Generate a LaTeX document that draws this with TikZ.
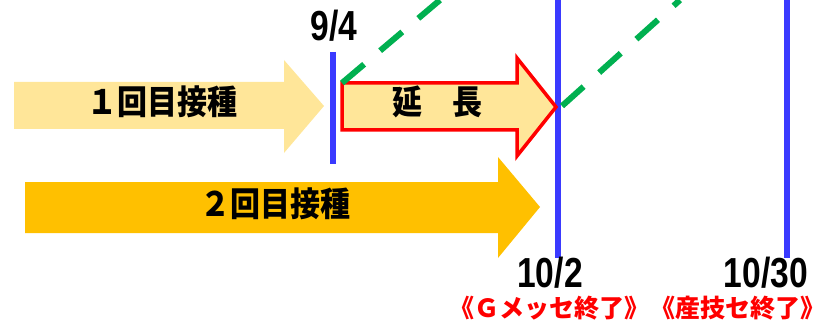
\documentclass[tikz,border=0pt]{standalone}
\usepackage{fontspec}
\setmainfont{Liberation Sans}
\newfontfamily\jp{Noto Sans CJK JP}
\definecolor{paleyellow}{HTML}{FFE699}
\definecolor{amber}{HTML}{FFC000}
\definecolor{lineblue}{HTML}{3A3AFF}
\definecolor{dashgreen}{HTML}{00B050}
\definecolor{labelred}{HTML}{FF0000}
\tikzset{
  dateline/.style={draw=lineblue, line width=6pt},
  greendash/.style={draw=dashgreen, line width=6pt, dash pattern=on 29pt off 21pt},
  jptext/.style={font=\jp\bfseries\fontsize{30}{32}\selectfont, inner sep=0pt, yscale=1.12},
  datetext/.style={font=\bfseries\fontsize{42}{43}\selectfont, inner sep=0pt, xscale=0.8},
  redlabel/.style={font=\jp\bfseries\fontsize{25}{26}\selectfont, text=labelred, inner sep=0pt},
}
\begin{document}
\begin{tikzpicture}[x=1pt,y=-1pt]
\useasboundingbox (0,0) rectangle (827,326);
% arrow 1 (first dose)
\fill[paleyellow] (14,82) -- (284,82) -- (284,60) -- (324,106) -- (284,153) -- (284,129) -- (14,129) -- cycle;
\node[jptext] (dose1) at (162,102) {１回目接種};
% arrow 2 (second dose)
\fill[amber] (25,182) -- (498,182) -- (498,157) -- (540,207) -- (498,258) -- (498,233) -- (25,233) -- cycle;
\node[jptext] (dose2) at (275,204) {２回目接種};
% blue date lines
\coordinate (l1top) at (333,52);
\coordinate (l1bot) at (333,164);
\coordinate (l2top) at (557.5,0);
\coordinate (l2bot) at (557.5,258);
\coordinate (l3top) at (787,0);
\coordinate (l3bot) at (787,258);
\draw[dateline] (l1top) -- (l1bot);
\draw[dateline] (l2top) -- (l2bot);
\draw[dateline] (l3top) -- (l3bot);
% extension arrow
\coordinate (extstart) at (342,83);
\coordinate (exttip) at (556,107);
\filldraw[fill=paleyellow, draw=labelred, line width=3.5pt, line join=miter]
  (extstart) -- (517,83) -- (517,58) -- (exttip) -- (517,156) -- (517,130) -- (342,130) -- cycle;
\node[jptext] (ext) at (437,102) {延　長};
% green dashed lines
\coordinate (g1end) at (440,0);
\coordinate (g2start) at (562,106);
\coordinate (g2end) at (680,0);
\draw[greendash] (extstart) -- (g1end);
\draw[greendash] (g2start) -- (g2end);
% dates
\node[datetext] (d1) at (334,26) {9/4};
\node[datetext] (d2) at (550,273) {10/2};
\node[datetext] (d3) at (766,273) {10/30};
% red labels
\node[redlabel] (gm) at (549,308) {《Ｇメッセ終了》};
\node[redlabel] (sg) at (738,308) {《産技セ終了》};
\end{tikzpicture}
\end{document}
